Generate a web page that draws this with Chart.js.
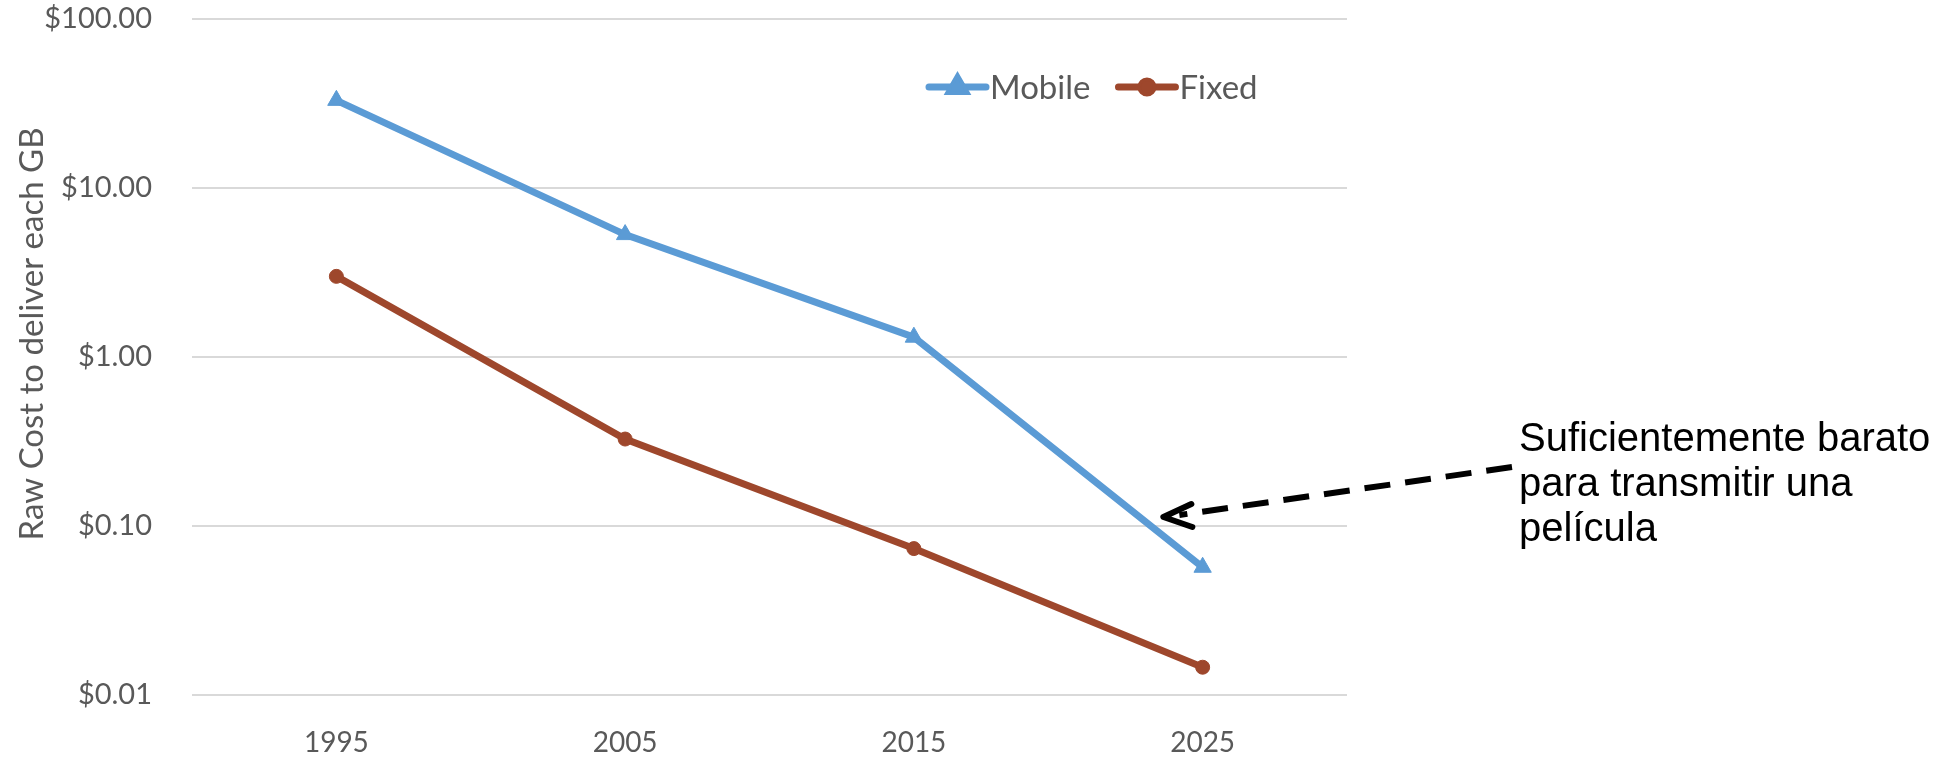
<!DOCTYPE html>
<html>
<head>
<meta charset="utf-8">
<title>Raw cost to deliver each GB</title>
<script src="https://cdn.jsdelivr.net/npm/chart.js"></script>
<style>
    body { margin: 0; background: #ffffff; }
    #wrap { width: 1947px; height: 760px; }
</style>
</head>
<body>
<div id="wrap"><canvas id="myChart" width="1947" height="760"></canvas></div>
<script>
// Chart data
const years = ['1995', '2005', '2015', '2025'];
const mobileCost = [33, 5.3, 1.31, 0.057];
const fixedCost = [3.0, 0.327, 0.0735, 0.0146];
const tickValues = [0.01, 0.1, 1, 10, 100];
const tickLabels = ['$0.01', '$0.10', '$1.00', '$10.00', '$100.00'];
const seriesNames = ['Mobile', 'Fixed'];
const yTitle = 'Raw Cost to deliver each GB';
const noteLines = ['Suficientemente barato', 'para transmitir una', 'película'];

const gray = '#595959';
const mobileColor = '#5B9BD5';
const fixedColor = '#9E472C';

document.addEventListener('DOMContentLoaded', function () {

    // legend drawn as line + marker, like the spreadsheet one
    const lineLegend = {
        id: 'lineLegend',
        afterDraw(chart) {
            const ctx = chart.ctx;
            let x = 929;
            const y = 87;
            ctx.save();
            ctx.font = '33px Lato';
            ctx.textBaseline = 'middle';
            chart.data.datasets.forEach(ds => {
                ctx.strokeStyle = ds.borderColor;
                ctx.lineWidth = 7;
                ctx.lineCap = 'round';
                ctx.beginPath();
                ctx.moveTo(x, y);
                ctx.lineTo(x + 57, y);
                ctx.stroke();
                Chart.helpers.drawPoint(ctx, {
                    pointStyle: ds.pointStyle,
                    radius: ds.pointRadius - 1,
                    borderWidth: 1
                }, x + 28.5, y);
                ctx.fillStyle = ds.borderColor;
                ctx.fill();
                ctx.fillStyle = gray;
                ctx.fillText(ds.label, x + 61, y + 1);
                x += 61 + ctx.measureText(ds.label).width + 28;
            });
            ctx.restore();
        }
    };

    // y axis title, drawn by hand so it sits where the original has it
    const sideTitle = {
        id: 'sideTitle',
        afterDraw(chart) {
            const ctx = chart.ctx;
            const area = chart.chartArea;
            ctx.save();
            ctx.translate(32, (area.top + area.bottom) / 2 - 23);
            ctx.rotate(-Math.PI / 2);
            ctx.font = '33px Lato';
            ctx.fillStyle = gray;
            ctx.textAlign = 'center';
            ctx.textBaseline = 'middle';
            ctx.fillText(yTitle, 0, 0);
            ctx.restore();
        }
    };

    // dashed arrow and note on the right
    const note = {
        id: 'note',
        afterDatasetsDraw(chart) {
            const ctx = chart.ctx;
            const xs = chart.scales.x;
            const ys = chart.scales.y;
            const x2015 = xs.getPixelForValue(2);
            const x2025 = xs.getPixelForValue(3);
            const tipX = x2015 + (x2025 - x2015) * 0.864;
            const tipY = ys.getPixelForValue(0.113);
            const endX = chart.chartArea.right + 165;
            const endY = tipY - 50;

            ctx.save();
            ctx.strokeStyle = '#000000';
            ctx.lineWidth = 6;
            ctx.setLineDash([26, 15]);
            ctx.beginPath();
            ctx.moveTo(endX, endY);
            ctx.lineTo(tipX + 16, tipY - 2);
            ctx.stroke();

            ctx.setLineDash([]);
            ctx.lineWidth = 6;
            ctx.lineCap = 'round';
            ctx.lineJoin = 'round';
            ctx.beginPath();
            ctx.moveTo(tipX + 28, tipY - 13);
            ctx.lineTo(tipX, tipY);
            ctx.lineTo(tipX + 29, tipY + 10);
            ctx.stroke();

            ctx.fillStyle = '#000000';
            ctx.font = '40px "Liberation Sans"';
            ctx.textBaseline = 'alphabetic';
            noteLines.forEach((line, i) => {
                ctx.fillText(line, 1519, 451 + i * 45);
            });
            ctx.restore();
        }
    };

    createChart();

    function createChart() {
        const ctx = document.getElementById('myChart').getContext('2d');

        new Chart(ctx, {
            type: 'line',
            data: {
                labels: years,
                datasets: [{
                    label: seriesNames[0],
                    data: mobileCost,
                    borderColor: mobileColor,
                    backgroundColor: mobileColor,
                    borderWidth: 7,
                    pointStyle: 'triangle',
                    pointRadius: 10,
                    pointBorderWidth: 1,
                    fill: false
                }, {
                    label: seriesNames[1],
                    data: fixedCost,
                    borderColor: fixedColor,
                    backgroundColor: fixedColor,
                    borderWidth: 7,
                    pointStyle: 'circle',
                    pointRadius: 7,
                    pointBorderWidth: 1,
                    fill: false
                }]
            },
            options: {
                responsive: false,
                animation: false,
                layout: {
                    padding: { top: 19, right: 600, bottom: 0, left: 0 }
                },
                plugins: {
                    legend: { display: false },
                    tooltip: { enabled: false }
                },
                scales: {
                    x: {
                        type: 'category',
                        offset: true,
                        grid: { display: false, drawTicks: false },
                        border: { display: false },
                        ticks: {
                            color: gray,
                            padding: 31,
                            font: { family: 'Lato', size: 28 }
                        },
                        afterFit: function (scale) {
                            scale.height = 65;
                            scale.paddingLeft = 0;
                            scale.paddingRight = 0;
                        }
                    },
                    y: {
                        type: 'logarithmic',
                        min: 0.01,
                        max: 100,
                        border: { display: false },
                        grid: {
                            color: '#d9d9d9',
                            lineWidth: 2,
                            drawTicks: false
                        },
                        ticks: {
                            color: gray,
                            padding: 40,
                            font: { family: 'Lato', size: 29 },
                            callback: function (value) {
                                const i = tickValues.indexOf(value);
                                return i >= 0 ? tickLabels[i] : '';
                            }
                        },
                        afterBuildTicks: function (scale) {
                            scale.ticks = tickValues.map(v => ({ value: v }));
                        },
                        afterFit: function (scale) {
                            scale.width = 192;
                            scale.paddingTop = 0;
                            scale.paddingBottom = 0;
                        }
                    }
                }
            },
            plugins: [lineLegend, sideTitle, note]
        });
    }
});
</script>
</body>
</html>
